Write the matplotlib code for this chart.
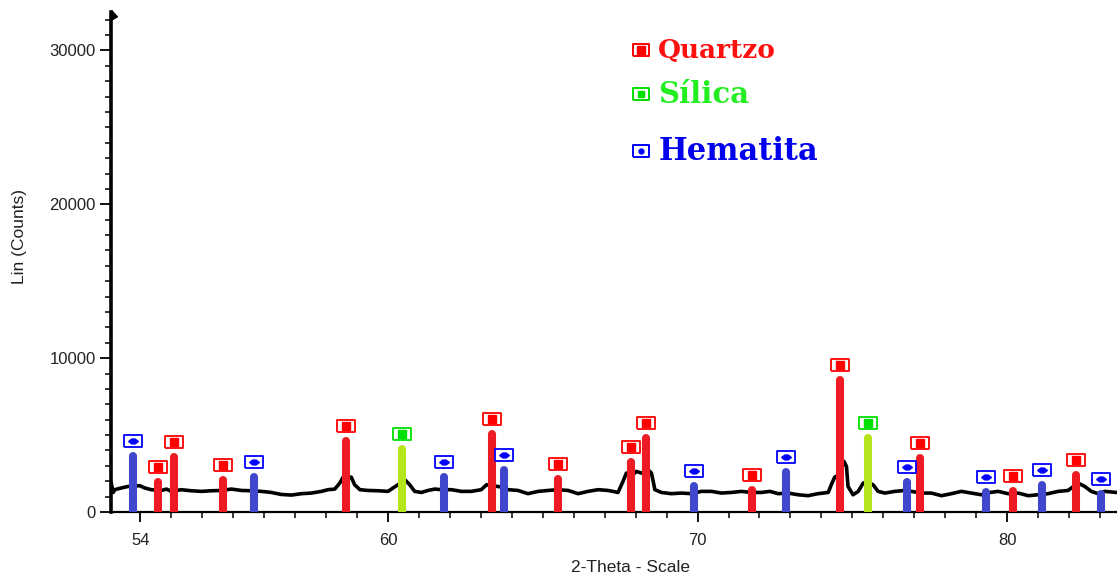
import numpy as np
import matplotlib.pyplot as plt
from matplotlib.transforms import offset_copy

# diffractogram trace (2-theta, counts)
theta = [51.06, 51.12, 51.17, 51.38, 51.60, 51.98, 52.14, 52.35, 52.68, 52.84,
         53.00, 53.32, 53.64, 53.97, 54.29, 54.61, 54.94, 55.26, 55.58, 55.91,
         56.23, 56.55, 56.88, 57.20, 57.52, 57.85, 58.06, 58.28, 58.44, 58.55,
         58.71, 58.81, 58.92, 59.09, 59.35, 59.68, 60.00, 60.16, 60.32, 60.54,
         60.70, 60.86, 61.08, 61.29, 61.51, 61.72, 62.05, 62.37, 62.69, 63.01,
         63.18, 63.39, 63.66, 63.88, 64.20, 64.52, 64.85, 65.17, 65.49, 65.82,
         66.14, 66.46, 66.79, 67.11, 67.43, 67.59, 67.70, 67.86, 68.02, 68.18,
         68.40, 68.51, 68.62, 68.83, 69.15, 69.48, 69.80, 70.12, 70.45, 70.77,
         71.09, 71.42, 71.74, 72.06, 72.34, 72.60, 72.92, 73.25, 73.57, 73.89,
         74.22, 74.32, 74.43, 74.59, 74.73, 74.81, 74.86, 75.02, 75.19, 75.35,
         75.51, 75.67, 75.83, 76.05, 76.37, 76.69, 76.91, 77.23, 77.55, 77.88,
         78.20, 78.52, 78.85, 79.17, 79.45, 79.71, 80.03, 80.36, 80.68, 81.00,
         81.32, 81.65, 81.97, 82.29, 82.51, 82.72, 82.94, 83.16, 83.53]
counts = [1840, 1270, 1450, 1560, 1660, 1710, 1560, 1450, 1400, 1490,
          1340, 1450, 1380, 1340, 1380, 1400, 1490, 1400, 1380, 1340,
          1270, 1140, 1100, 1190, 1230, 1340, 1450, 1490, 1880, 2270,
          2210, 2270, 1770, 1450, 1400, 1380, 1340, 1560, 1770, 2100,
          1770, 1340, 1270, 1400, 1490, 1450, 1450, 1340, 1340, 1450,
          1770, 1710, 1620, 1450, 1400, 1190, 1340, 1400, 1450, 1400,
          1190, 1340, 1450, 1400, 1270, 1990, 2530, 2310, 2640, 2530,
          2750, 2530, 1450, 1270, 1190, 1230, 1190, 1340, 1340, 1230,
          1270, 1340, 1270, 1270, 1340, 1190, 1230, 1120, 1060, 1190,
          1270, 1770, 2270, 2420, 3290, 2960, 1660, 1120, 1340, 1880,
          1920, 1770, 1340, 1230, 1340, 1400, 1340, 1230, 1230, 1060,
          1190, 1340, 1230, 1120, 1270, 1340, 1190, 1230, 1060, 1120,
          1190, 1340, 1400, 1880, 1660, 1340, 1190, 1340, 1270]

# phase reference peaks
quartzo_theta = [52.56, 53.10, 54.68, 58.64, 63.35, 65.50, 67.84, 68.33, 71.75, 74.60, 77.19, 80.18, 82.21]
quartzo_counts = [2230, 3850, 2360, 4850, 5300, 2420, 3530, 5090, 1660, 8870, 3790, 1640, 2640]
silica_theta = [60.44, 75.49]
silica_counts = [4370, 5050]
hematita_theta = [51.77, 55.67, 61.82, 63.73, 69.90, 72.85, 76.76, 79.32, 81.14, 83.03]
hematita_counts = [3920, 2550, 2550, 3010, 1920, 2860, 2230, 1580, 1990, 1450]

legend_labels = ['Quartzo', 'Sílica', 'Hematita']

xtick_pos = [52, 60, 70, 80]
xtick_labels = ['54', '60', '70', '80']
ytick_pos = [0, 10000, 20000, 30000]

plt.rcParams['font.family'] = ['Liberation Sans', 'DejaVu Sans']

fig = plt.figure(figsize=(11.17, 5.78), dpi=100)
ax = fig.add_axes([0.0994, 0.1142, 0.9006, 0.865])
ymax = 32500
ax.set_xlim(51.05, 83.55)
ax.set_ylim(0, ymax)

ax.plot(theta, counts, color='black', lw=2.6, zorder=2)

box = [(-9, -6.5), (9, -6.5), (9, 6.5), (-9, 6.5), (-9, -6.5)]
arrow = [(-1, 0), (-0.35, 0.5), (0.35, 0.5), (1, 0), (0.35, -0.5), (-0.35, -0.5), (-1, 0)]

phases = [
    (quartzo_theta, quartzo_counts, '#ED1C24', '#FF0000', 's', 5.2),
    (silica_theta, silica_counts, '#B5E61D', '#00E000', 's', 5.2),
    (hematita_theta, hematita_counts, '#3F48CC', '#0000FF', arrow, 7),
]

# bar half width in counts so the rounded cap ends at the peak height
cap = 4 * ymax / 500.0
lift = offset_copy(ax.transData, fig=fig, y=11, units='dots')
for xs, ys, bar_c, box_c, inner, inner_ms in phases:
    lc = ax.vlines(xs, 0, np.array(ys) - cap, colors=bar_c, lw=5.8, zorder=3)
    lc.set_capstyle('round')
    ax.plot(xs, ys, ls='none', marker=box, ms=12.3, mfc='white', mec=box_c,
            mew=1.3, transform=lift, zorder=4, clip_on=False)
    ax.plot(xs, ys, ls='none', marker=inner, ms=inner_ms, color=box_c,
            transform=lift, zorder=5, clip_on=False)

# legend written by hand
leg_y = [0.924, 0.836, 0.722]
leg_size = [19, 21, 22]
leg_box = ['#FF0000', '#00E000', '#0000FF']
leg_text = ['#FF1010', '#22EE22', '#0000EE']
leg_inner = [('s', 6), ('s', 5), ('o', 3.5)]
for lab, yy, fs, bc, tc, (mk, ms) in zip(legend_labels, leg_y, leg_size, leg_box, leg_text, leg_inner):
    ax.plot([0.5265], [yy], transform=ax.transAxes, ls='none', marker=box, ms=11.5,
            mfc='white', mec=bc, mew=1.4, clip_on=False, zorder=6)
    ax.plot([0.5265], [yy], transform=ax.transAxes, ls='none', marker=mk, ms=ms,
            color=bc, clip_on=False, zorder=7)
    ax.text(0.544, yy, lab, transform=ax.transAxes, color=tc, fontsize=fs,
            fontweight='bold', family='DejaVu Serif', va='center', ha='left')

# small flag at top of the y axis
ax.plot([0], [1.004], transform=ax.transAxes, ls='none',
        marker=[(0, 0), (0.6, -0.65), (0, -1)], ms=14, color='black', clip_on=False)

for s in ['top', 'right']:
    ax.spines[s].set_visible(False)
ax.spines['left'].set_linewidth(2.6)
ax.spines['bottom'].set_linewidth(1.6)

ax.set_yticks(ytick_pos)
ax.set_yticks(np.arange(0, 32001, 1000), minor=True)
ax.set_xticks(xtick_pos)
ax.set_xticklabels(xtick_labels)
ax.set_xticks(np.arange(52, 84, 1), minor=True)
ax.tick_params(axis='y', which='major', length=8, width=1.3, pad=3, labelsize=12, labelcolor='#222222')
ax.tick_params(axis='y', which='minor', length=4.5, width=1.1)
ax.tick_params(axis='x', which='major', length=7, width=1.3, pad=8, labelsize=12, labelcolor='#222222')
ax.tick_params(axis='x', which='minor', length=4, width=1.1)

ax.set_xlabel('2-Theta - Scale', fontsize=12.5, color='#222222')
ax.set_ylabel('Lin (Counts)', fontsize=12.5, color='#222222')
ax.xaxis.set_label_coords(0.516, -0.096)
ax.yaxis.set_label_coords(-0.0835, 0.552)

fig.savefig('out.png', dpi=100)
